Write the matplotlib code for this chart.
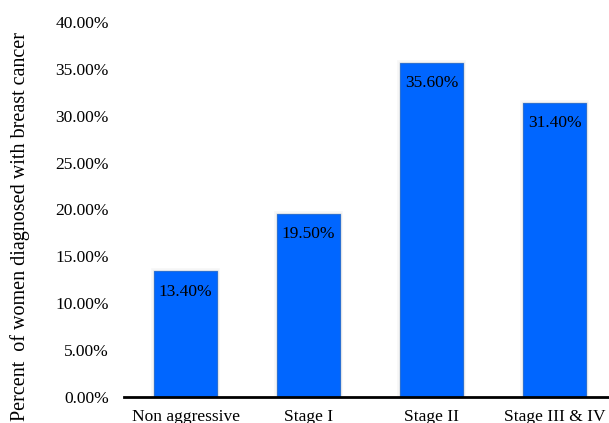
#!/usr/bin/env python3
# -*- coding: utf-8 -*-

import matplotlib
matplotlib.use("Agg")
import matplotlib.pyplot as plt
import matplotlib.patheffects as pe
from matplotlib.ticker import FuncFormatter

stages = ["Non aggressive", "Stage I", "Stage II", "Stage III & IV"]
percent_women = [13.40, 19.50, 35.60, 31.40]
y_ticks = [0, 5, 10, 15, 20, 25, 30, 35, 40]

plt.rcParams['font.family'] = ['Liberation Serif', 'DejaVu Serif']

fig = plt.figure(figsize=(6.09, 4.23), dpi=100)
ax = fig.add_axes([0.2036, 0.0615, 0.808, 0.8865])

# soft grey shadow behind each bar
halo = [pe.SimplePatchShadow(offset=(1, -1), shadow_rgbFace='#9a9a9a', alpha=0.25),
        pe.Stroke(linewidth=4, foreground='#909090', alpha=0.08),
        pe.Stroke(linewidth=2, foreground='#909090', alpha=0.12),
        pe.Normal()]

x_pos = list(range(len(stages)))
bars = ax.bar(x_pos, percent_women, width=0.51, color='#0066ff',
              edgecolor='#2a70d4', linewidth=0.8, zorder=2)
for b in bars:
    b.set_path_effects(halo)

for xp, val in zip(x_pos, percent_women):
    ax.annotate(f"{val:.2f}%", xy=(xp, val), xytext=(0, -14.5),
                textcoords='offset points', ha='center', va='center',
                fontsize=12.5, color='black', zorder=3)

ax.set_xlim(-0.5, 3.5)
ax.set_ylim(0, 40)
ax.set_yticks(y_ticks)
ax.yaxis.set_major_formatter(FuncFormatter(lambda v, _: f"{v:.2f}%"))
ax.set_xticks(x_pos)
ax.set_xticklabels(stages)
ax.tick_params(axis='y', length=0, pad=11, labelsize=12.5)
ax.tick_params(axis='x', length=0, pad=8.5, labelsize=12.5)

for side in ['top', 'right', 'left']:
    ax.spines[side].set_visible(False)
ax.spines['bottom'].set_linewidth(2)
ax.spines['bottom'].set_zorder(4)

fig.text(0.033, 0.465, "Percent  of women diagnosed with breast cancer",
         rotation=90, ha='center', va='center', fontsize=14.5)

fig.savefig("out.png", dpi=100)
